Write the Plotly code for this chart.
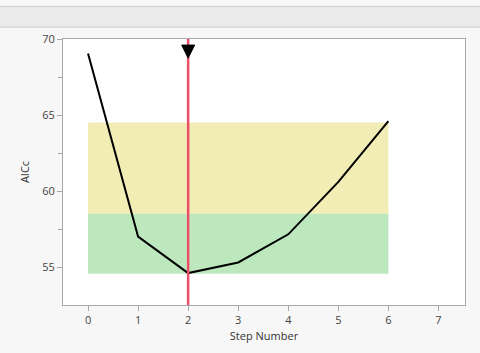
import plotly.graph_objects as go

steps = [0, 1, 2, 3, 4, 5, 6]
aicc = [69.05, 57.0, 54.6, 55.3, 57.15, 60.6, 64.6]
best_step = 2
marker_top = 69.6
yellow_band = [58.5, 64.5]
green_band = [54.55, 58.5]
band_x = [0, 6]

fig = go.Figure()

fig.add_shape(type="rect", xref="x", yref="y", x0=band_x[0], x1=band_x[1],
              y0=yellow_band[0], y1=yellow_band[1], fillcolor="#F2EDB5", line_width=0, layer="below")
fig.add_shape(type="rect", xref="x", yref="y", x0=band_x[0], x1=band_x[1],
              y0=green_band[0], y1=green_band[1], fillcolor="#BDE8BE", line_width=0, layer="below")

# header band (pixel rows 6..27 above a 269px plot area whose top is at 39)
ph = 269
fig.add_shape(type="rect", xref="paper", yref="paper", x0=-0.3, x1=1.3,
              y0=1 + (39 - 27) / ph, y1=1 + (39 - 6) / ph, fillcolor="#EBEBEB",
              line=dict(color="#CCCCCC", width=1))

fig.add_trace(go.Scatter(x=steps, y=aicc, mode="lines",
                         line=dict(color="black", width=2), showlegend=False))
fig.add_shape(type="line", xref="x", yref="paper", x0=best_step, x1=best_step, y0=0, y1=1,
              line=dict(color="#EC5068", width=2.5))
# downward pointer at the chosen step
fig.add_shape(type="path", xref="x", yref="y", xsizemode="pixel", ysizemode="pixel",
              xanchor=best_step, yanchor=marker_top,
              path="M-6.5,0 L6.5,0 L0,-13 Z", fillcolor="black", line=dict(color="black", width=1))

axis_common = dict(showline=True, linecolor="#A8A8A8", linewidth=1, mirror=True,
                   ticks="outside", ticklen=5, tickcolor="#A8A8A8", showgrid=False,
                   zeroline=False, tickfont=dict(size=11, color="#444444"))

fig.update_xaxes(range=[-0.5, 7.53], tickvals=[0, 1, 2, 3, 4, 5, 6, 7],
                 title=dict(text="Step Number", font=dict(size=11, color="#333333"), standoff=6),
                 **axis_common)
fig.update_yaxes(range=[52.5, 70], tickvals=[55, 60, 65, 70],
                 minor=dict(tickvals=[57.5, 62.5, 67.5], ticks="outside", ticklen=4, tickcolor="#A8A8A8"),
                 title=dict(text="AICc", font=dict(size=11, color="#333333"), standoff=10),
                 **axis_common)

fig.update_layout(width=480, height=353, margin=dict(l=63, r=15, t=39, b=45),
                  paper_bgcolor="#F7F7F7", plot_bgcolor="white",
                  font=dict(family="Open Sans, Noto Sans, sans-serif"))

fig.write_html("out.html")
